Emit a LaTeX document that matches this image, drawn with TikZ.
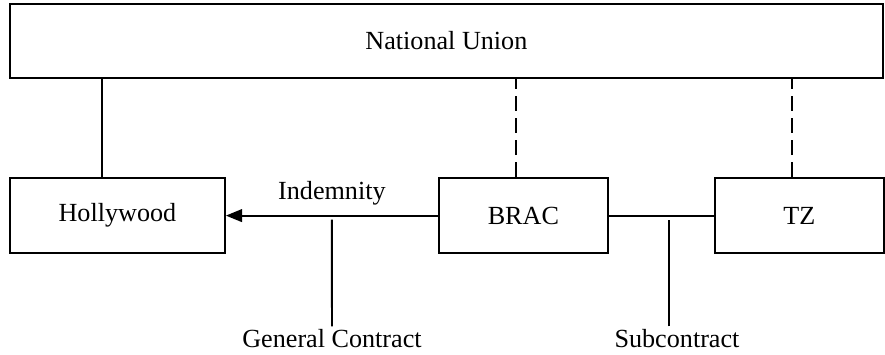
\documentclass[tikz,border=0pt]{standalone}
\usepackage{fontspec}
\setmainfont{Liberation Serif}
\usetikzlibrary{arrows.meta}
\begin{document}
\begin{tikzpicture}[line width=1.4pt,node distance=4.37cm,
  every node/.style={font=\fontsize{18.6}{22}\selectfont},
  party/.style={draw,minimum height=1.875cm,inner sep=0pt},
  lbl/.style={inner sep=1pt,anchor=base},
  link/.style={dash pattern=on 10.7pt off 5pt}]
  \useasboundingbox (0,0) rectangle (22.125,-8.85);
  % Top
  \node (union) [party,minimum width=21.825cm,minimum height=1.8625cm] at (11.16,-1.02) {National Union};
  % Parties
  \node (hw) [party,minimum width=5.375cm,below of=union,xshift=-8.225cm] {Hollywood};
  \node (brac) [party,minimum width=4.225cm,right of=hw,xshift=5.78cm] {BRAC};
  \node (tz) [party,minimum width=4.225cm,right of=brac,xshift=2.53cm] {TZ};
  \draw ([xshift=-0.375cm]hw.north) -- ([xshift=-0.375cm]hw.north |- union.south);
  \draw[link] ([xshift=-0.1875cm]brac.north) -- ([xshift=-0.1875cm]brac.north |- union.south);
  \draw[link] ([xshift=-0.1875cm]tz.north) -- ([xshift=-0.1875cm]tz.north |- union.south);
  % Contracts
  \draw[-{Triangle[length=11.5pt,width=9pt]}] (brac.west) -- node[above,inner sep=7pt] (ind) {Indemnity} coordinate[midway] (gcmid) (hw.east);
  \draw (brac.east) -- coordinate[pos=0.57] (scmid) (tz.west);
  \node (gc) [lbl] at (8.3,-8.675) {General Contract};
  \node (sc) [lbl] at (16.925,-8.675) {Subcontract};
  \draw (gc.north) -- ([yshift=-0.1cm]gcmid);
  \draw (gc.north -| scmid) -- ([yshift=-0.1cm]scmid);
\end{tikzpicture}
\end{document}
